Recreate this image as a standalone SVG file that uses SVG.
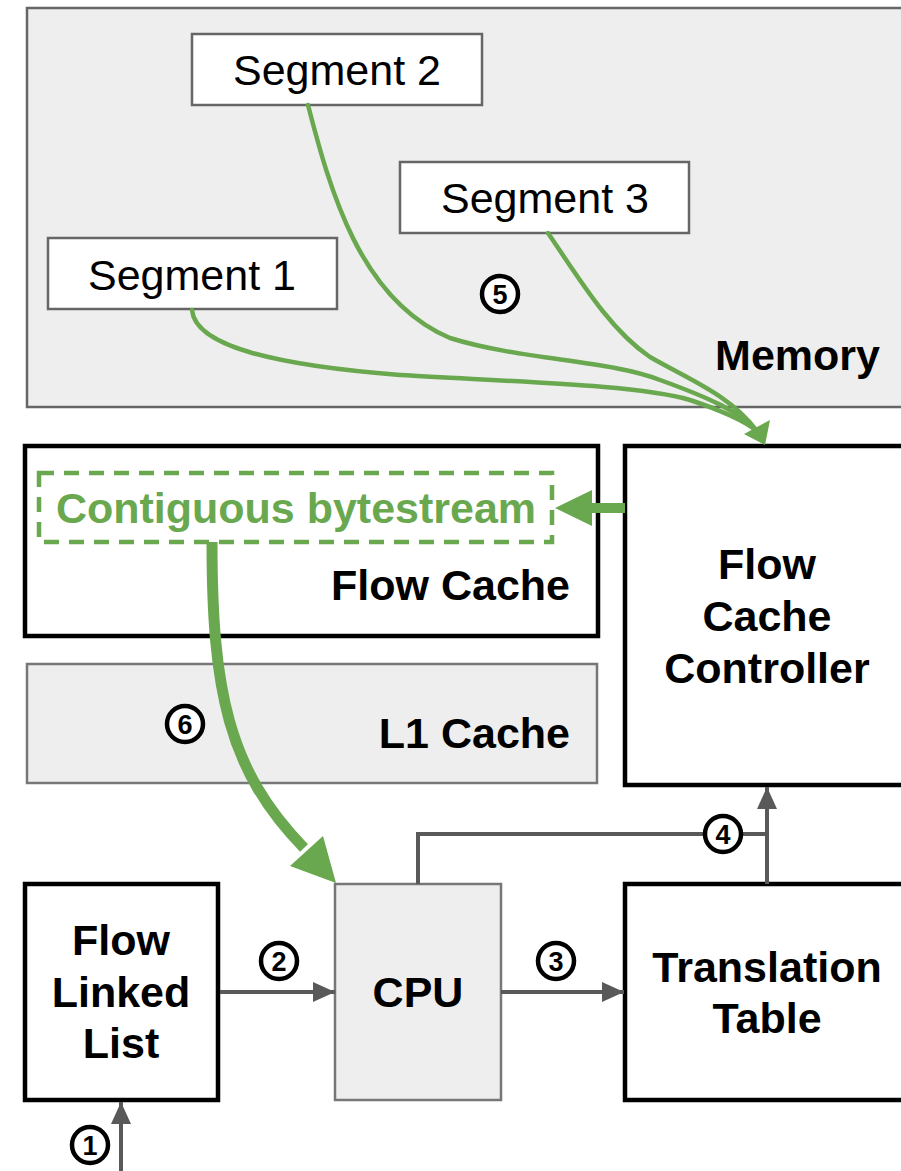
<svg xmlns="http://www.w3.org/2000/svg" width="901" height="1171" viewBox="0 0 901 1171">
  <style>
    .txt { font-family: "Liberation Sans", Arial, sans-serif; fill: #000; }
    .reg { font-size: 43px; }
    .bold { font-size: 43px; font-weight: bold; }
    .green-txt { fill: #6aa84f; }
    .num { font-family: "Liberation Sans", Arial, sans-serif; font-size: 27px; font-weight: bold; fill: #000; text-anchor: middle; }
    .ring { fill: #fff; stroke: #000; stroke-width: 4.5; }
    .mem { fill: #eeeeee; stroke: #666; stroke-width: 2.5; }
    .seg { fill: #fff; stroke: #666; stroke-width: 2.5; }
    .blk { fill: #fff; stroke: #000; stroke-width: 4.5; }
    .gray { fill: #eeeeee; stroke: #777; stroke-width: 2.5; }
    .g-line { fill: none; stroke: #6aa84f; stroke-width: 4.5; stroke-linecap: round; }
    .g-thick { fill: none; stroke: #6aa84f; stroke-width: 11; }
    .k-line { fill: none; stroke: #595959; stroke-width: 4; }
  </style>
  <defs>
    <marker id="grayHead" viewBox="0 0 22 20" refX="22" refY="10" markerWidth="22" markerHeight="20" markerUnits="userSpaceOnUse" orient="auto">
      <path d="M0,0 L22,10 L0,20 Z" fill="#595959"/>
    </marker>
  </defs>

  <!-- Memory region with its three segments -->
  <g id="memory">
    <rect class="mem" x="27" y="8" width="880" height="399"/>
    <text class="txt bold" x="880" y="370" text-anchor="end">Memory</text>
  </g>
  <g id="segment2">
    <rect class="seg" x="192" y="34" width="290" height="71"/>
    <text class="txt reg" x="337" y="85" text-anchor="middle">Segment 2</text>
  </g>
  <g id="segment3">
    <rect class="seg" x="400" y="162" width="289" height="71"/>
    <text class="txt reg" x="545" y="213" text-anchor="middle">Segment 3</text>
  </g>
  <g id="segment1">
    <rect class="seg" x="48" y="238" width="289" height="71"/>
    <text class="txt reg" x="192" y="290" text-anchor="middle">Segment 1</text>
  </g>

  <!-- Cache hierarchy -->
  <g id="flow-cache">
    <rect class="blk" x="25" y="446" width="573" height="190"/>
    <rect x="39" y="473" width="513" height="69" fill="none" stroke="#6aa84f" stroke-width="4.5" stroke-dasharray="15,10"/>
    <text class="txt bold green-txt" x="296" y="523" text-anchor="middle">Contiguous bytestream</text>
    <text class="txt bold" x="570" y="600" text-anchor="end">Flow Cache</text>
  </g>
  <g id="l1-cache">
    <rect class="gray" x="27" y="664" width="570" height="119"/>
    <text class="txt bold" x="570" y="748" text-anchor="end">L1 Cache</text>
  </g>
  <g id="flow-cache-controller">
    <rect class="blk" x="625" y="446" width="285" height="339"/>
    <text class="txt bold" x="767" y="579" text-anchor="middle">Flow</text>
    <text class="txt bold" x="767" y="631" text-anchor="middle">Cache</text>
    <text class="txt bold" x="767" y="683" text-anchor="middle">Controller</text>
  </g>

  <!-- Processing units -->
  <g id="flow-linked-list">
    <rect class="blk" x="25" y="884" width="193" height="216"/>
    <text class="txt bold" x="121" y="955" text-anchor="middle">Flow</text>
    <text class="txt bold" x="121" y="1007" text-anchor="middle">Linked</text>
    <text class="txt bold" x="121" y="1058" text-anchor="middle">List</text>
  </g>
  <g id="cpu">
    <rect class="gray" x="335" y="884" width="166" height="216"/>
    <text class="txt bold" x="418" y="1007" text-anchor="middle">CPU</text>
  </g>
  <g id="translation-table">
    <rect class="blk" x="625" y="884" width="285" height="216"/>
    <text class="txt bold" x="767" y="982" text-anchor="middle">Translation</text>
    <text class="txt bold" x="767" y="1033" text-anchor="middle">Table</text>
  </g>

  <!-- Connectors -->
  <g id="connectors">
    <!-- segments gathered into the controller -->
    <path class="g-line" d="M308,105 C330,190 360,300 450,338 C520,360 610,360 660,380 C710,398 740,412 757,431"/>
    <path class="g-line" d="M192,310 C195,345 270,365 400,375 C520,382 640,385 690,400 C720,410 745,421 757,431"/>
    <path class="g-line" d="M548,233 C580,280 610,330 650,357 C690,380 730,395 757,431"/>
    <path d="M744,434 L770,420 L765,445 Z" fill="#6aa84f"/>

    <!-- controller fills the bytestream -->
    <line x1="625" y1="508" x2="588" y2="508" stroke="#6aa84f" stroke-width="10"/>
    <path d="M555,508 L592,490 L592,526 Z" fill="#6aa84f"/>

    <!-- bytestream delivered to the CPU -->
    <path class="g-thick" d="M212,542 C212,690 228,770 304,848"/>
    <path d="M290,866 L323,836 L336,883 Z" fill="#6aa84f"/>

    <!-- gray control path -->
    <line class="k-line" x1="121" y1="1171" x2="121" y2="1102" marker-end="url(#grayHead)"/>
    <line class="k-line" x1="220" y1="992" x2="335" y2="992" marker-end="url(#grayHead)"/>
    <line class="k-line" x1="501" y1="992" x2="624" y2="992" marker-end="url(#grayHead)"/>
    <polyline class="k-line" points="418,884 418,834 767,834"/>
    <line class="k-line" x1="767" y1="884" x2="767" y2="787" marker-end="url(#grayHead)"/>
  </g>

  <!-- step numbers -->
  <g id="step-labels">
    <circle class="ring" cx="90" cy="1145" r="18"/><text class="num" x="90" y="1155">1</text>
    <circle class="ring" cx="279" cy="961" r="18"/><text class="num" x="279" y="971">2</text>
    <circle class="ring" cx="556" cy="961" r="18"/><text class="num" x="556" y="971">3</text>
    <circle class="ring" cx="723" cy="834" r="18"/><text class="num" x="723" y="844">4</text>
    <circle class="ring" cx="500" cy="294" r="18" fill="none"/><text class="num" x="500" y="304">5</text>
    <circle class="ring" cx="185" cy="724" r="18"/><text class="num" x="185" y="734">6</text>
  </g>
</svg>
